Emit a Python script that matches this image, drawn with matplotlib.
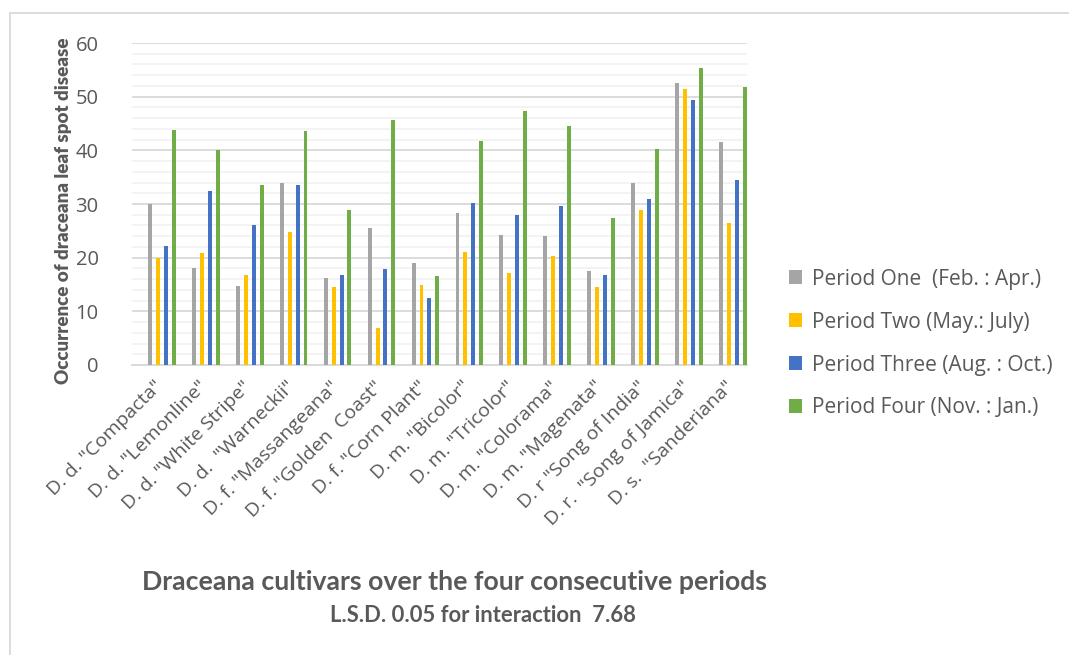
import numpy as np
import matplotlib.pyplot as plt
from matplotlib.patches import Rectangle
from matplotlib.ticker import MultipleLocator

# cultivars on the x axis
cultivars = ['D. d. "Compacta"', 'D. d. "Lemonline"', 'D. d. "White Stripe"',
             'D. d.  "Warneckii"', 'D. f. "Massangeana"', 'D. f. "Golden  Coast"',
             'D. f. "Corn Plant"', 'D. m. "Bicolor"', 'D. m. "Tricolor"',
             'D. m. "Colorama"', 'D. m. "Magenata"', 'D. r "Song of India"',
             'D. r.  "Song of Jamica"', 'D. s.  "Sanderiana"']

period_one = [30.0, 18.0, 14.8, 33.9, 16.3, 25.6, 19.0, 28.3, 24.3, 24.0, 17.5, 34.0, 52.5, 41.5]
period_two = [19.9, 20.9, 16.8, 24.8, 14.5, 6.9, 15.0, 21.0, 17.1, 20.4, 14.5, 28.8, 51.4, 26.4]
period_three = [22.2, 32.4, 26.0, 33.5, 16.8, 17.8, 12.4, 30.1, 27.9, 29.6, 16.8, 30.9, 49.4, 34.5]
period_four = [43.8, 40.0, 33.5, 43.6, 28.8, 45.6, 16.5, 41.7, 47.4, 44.5, 27.3, 40.3, 55.3, 51.8]

series_names = ['Period One  (Feb. : Apr.)', 'Period Two (May.: July)',
                'Period Three (Aug. : Oct.)', 'Period Four (Nov. : Jan.)']
series_colors = ['#A5A5A5', '#FFC000', '#4472C4', '#70AD47']

txt = '#595959'
plt.rcParams['font.family'] = ['Open Sans', 'DejaVu Sans']

fig = plt.figure(figsize=(10.69, 6.55), dpi=100)
ax = fig.add_axes([132 / 1069, 1 - 365 / 655, 615 / 1069, 322 / 655])

x = np.arange(len(cultivars))
offsets = [-0.09, 0.09, 0.27, 0.45]
for vals, off, name, col in zip([period_one, period_two, period_three, period_four],
                                offsets, series_names, series_colors):
    ax.bar(x + off, vals, width=0.09, color=col, label=name, zorder=3)

ax.set_xlim(-0.5, len(cultivars) - 0.5)
ax.set_ylim(0, 60)
ax.yaxis.set_major_locator(MultipleLocator(10))
ax.yaxis.set_minor_locator(MultipleLocator(2))
ax.grid(axis='y', which='major', color='#D9D9D9', lw=1.3, zorder=0)
ax.grid(axis='y', which='minor', color='#F2F2F2', lw=1.3, zorder=0)
for s in ['top', 'right', 'left']:
    ax.spines[s].set_visible(False)
ax.spines['bottom'].set_color('#D9D9D9')
ax.spines['bottom'].set_linewidth(1.3)

ax.tick_params(axis='y', which='both', length=0, pad=24, labelsize=14.5, labelcolor=txt)
ax.tick_params(axis='x', length=0, pad=9)
ax.set_xticks(x)
ax.set_xticklabels(cultivars, rotation=45, ha='right', rotation_mode='anchor',
                   fontsize=14, color=txt)

ax.set_ylabel('Occurrence of draceana leaf spot disease', fontsize=13.5,
              fontweight='heavy', color=txt, family=['Lato', 'DejaVu Sans'])
ax.yaxis.set_label_coords(-0.097, 0.48)

leg = fig.legend(loc='upper left', bbox_to_anchor=(770 / 1069, 1 - 250 / 655),
                 frameon=False, handlelength=0.65, handleheight=0.65,
                 handletextpad=0.45, labelspacing=1.05, fontsize=15)
for t in leg.get_texts():
    t.set_color(txt)

fig.text(454 / 1069, 1 - 582 / 655, 'Draceana cultivars over the four consecutive periods',
         ha='center', va='center', fontsize=19.2, fontweight='bold', color=txt,
         family=['Lato', 'DejaVu Sans'])
fig.text(483 / 1069, 1 - 615 / 655, 'L.S.D. 0.05 for interaction  7.68',
         ha='center', va='center', fontsize=15.8, fontweight='bold', color=txt,
         family=['Lato', 'DejaVu Sans'])

# outer chart frame
fig.patches.append(Rectangle((10 / 1069, -0.1), 1.2, 1 - 13 / 655 + 0.1,
                             transform=fig.transFigure, fill=False,
                             edgecolor='#D9D9D9', lw=1.3))

fig.savefig('out.png', dpi=100)
